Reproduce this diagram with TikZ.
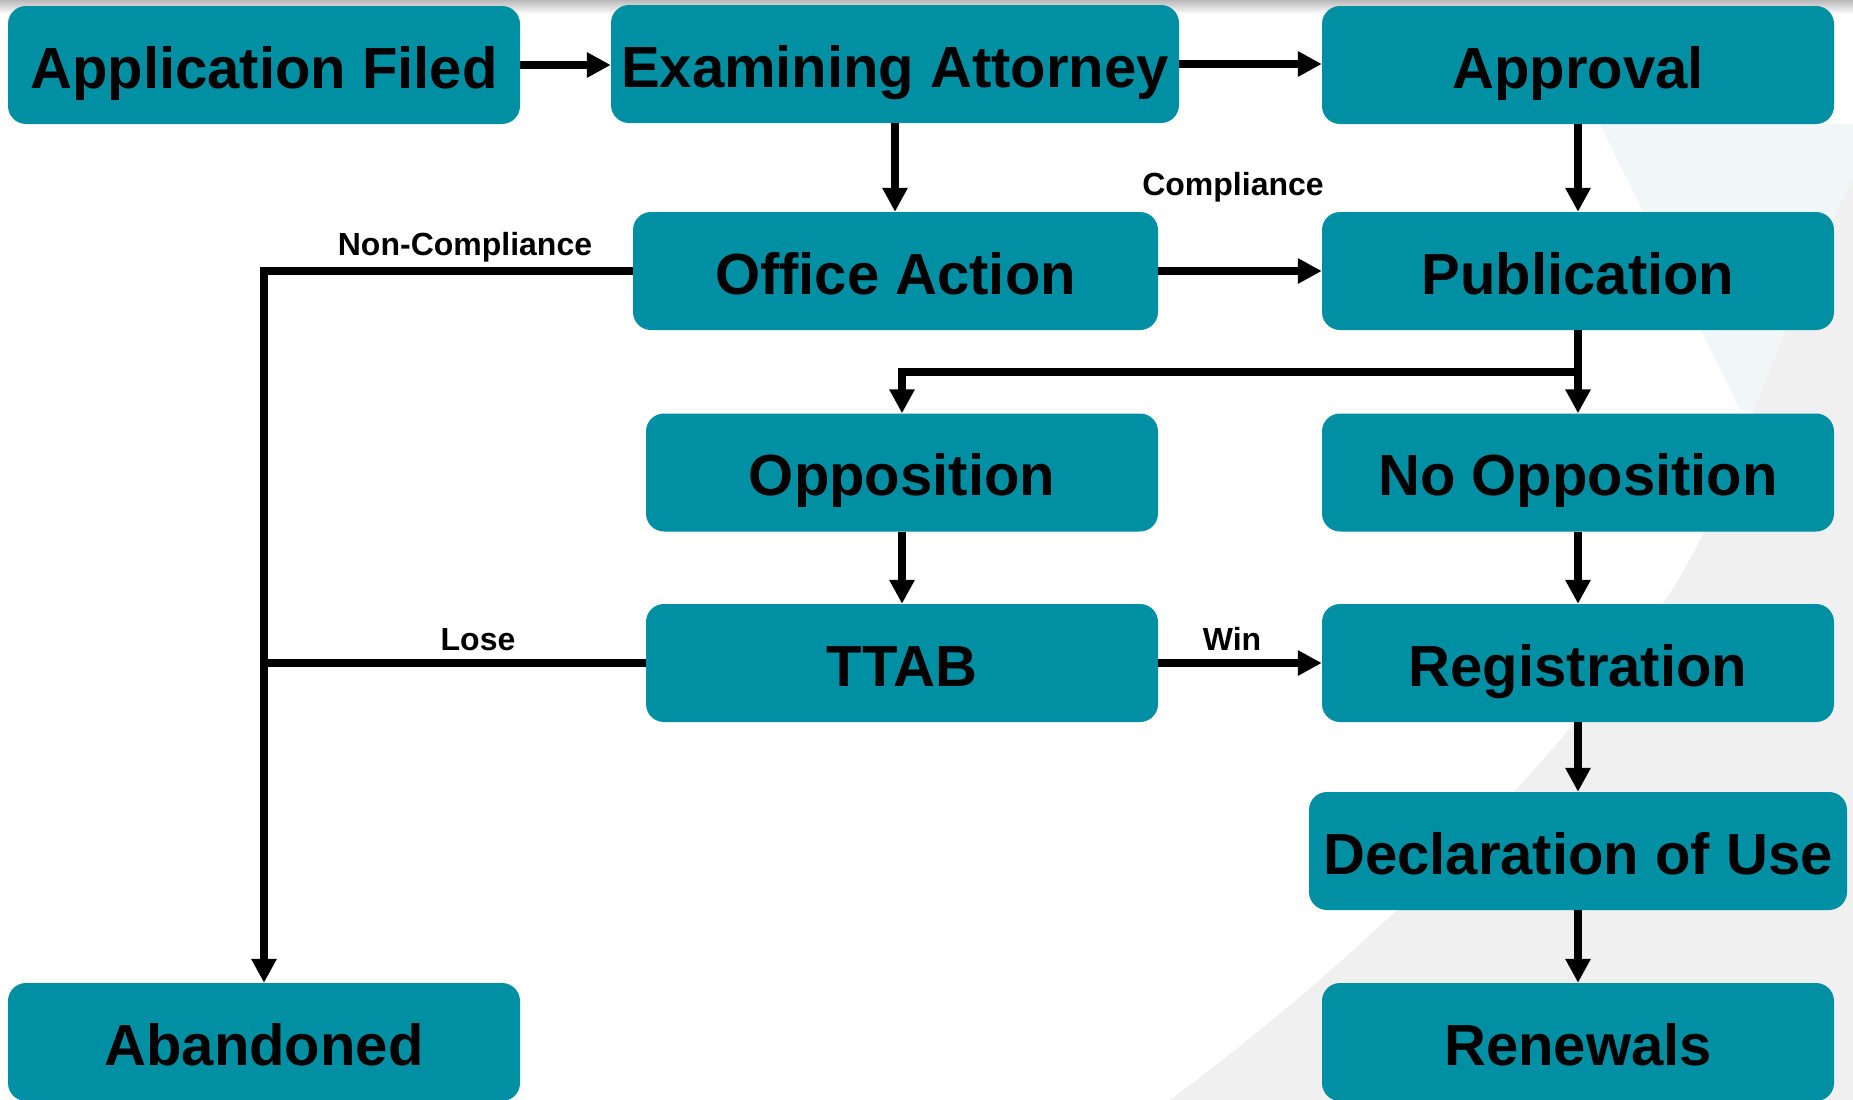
\documentclass[tikz,border=0pt]{standalone}
\usepackage{fontspec}
\setmainfont{Liberation Sans}
\usetikzlibrary{arrows.meta}
\definecolor{tealbox}{RGB}{0,143,163}
\definecolor{bggray}{RGB}{240,240,240}
\definecolor{bgblue}{RGB}{241,246,248}
\begin{document}
\begin{tikzpicture}[x=1pt,y=-1pt,
  box/.style={fill=tealbox, rounded corners=18pt, minimum height=118pt, inner sep=0pt,
    text height=46.5pt, text depth=0pt, font=\fontsize{58}{60}\selectfont\bfseries},
  lbl/.style={font=\fontsize{32}{34}\selectfont\bfseries, inner sep=0pt, text height=23pt, text depth=0pt},
  arr/.style={line width=8pt, -{Triangle[length=24pt,width=24pt]}},
  ln/.style={line width=8pt}]
\useasboundingbox (0,0) rectangle (1853,1100);
\clip (0,0) rectangle (1853,1100);
% background
\fill[white] (0,0) rectangle (1853,1100);
\fill[bgblue] (1600,124) -- (1853,124) -- (1853,420) -- (1740,410) -- cycle;
\fill[bggray] (1853,1100) -- (1170,1100) .. controls (1400,930) and (1620,700) .. (1700,540)
  .. controls (1750,430) and (1800,280) .. (1853,180) -- cycle;
\shade[top color=gray!55, bottom color=white] (0,0) rectangle (1853,14);
% boxes
\node[box, minimum width=512pt] (app) at (264,65) {Application Filed};
\node[box, minimum width=568pt] (exam) at (895,64) {Examining Attorney};
\node[box, minimum width=512pt] (appr) at (1578,65) {Approval};
\node[box, minimum width=525pt] (oa) at (895.5,271) {Office Action};
\node[box, minimum width=512pt] (pub) at (1578,271) {Publication};
\node[box, minimum width=512pt] (opp) at (902,472.5) {Opposition};
\node[box, minimum width=512pt] (noopp) at (1578,472.5) {No Opposition};
\node[box, minimum width=512pt] (ttab) at (902,663) {TTAB};
\node[box, minimum width=512pt] (reg) at (1578,663) {Registration};
\node[box, minimum width=538pt] (decl) at (1578,851) {Declaration of Use};
\node[box, minimum width=512pt] (aband) at (264,1042) {Abandoned};
\node[box, minimum width=512pt] (renew) at (1578,1042) {Renewals};
% connectors
\draw[arr] (app.east) -- (app.east -| exam.west);
\draw[arr] (exam.east) -- (exam.east -| appr.west);
\draw[arr] (exam.south) -- (exam.south |- oa.north);
\draw[arr] (appr) -- (pub);
\draw[arr] (oa) -- (pub);
\coordinate (split) at (1578,372);
\draw[ln] (pub.south) -- (split);
\draw[arr] (split) -- (noopp.north);
\draw[arr] (split) -| (opp.north);
\draw[arr] (opp) -- (ttab);
\draw[arr] (noopp) -- (reg);
\draw[arr] (ttab) -- (reg);
\draw[arr] (reg) -- (decl);
\draw[arr] (decl) -- (renew);
\draw[arr] (oa.west) -| (aband.north);
\draw[ln] (ttab.west) -- (ttab.west -| aband.north);
% labels
\node[lbl] (lnc) at (465,243.5) {Non-Compliance};
\node[lbl] (lc) at (1233,184) {Compliance};
\node[lbl] (lw) at (1232,638.5) {Win};
\node[lbl] (ll) at (478,639) {Lose};
\end{tikzpicture}
\end{document}
